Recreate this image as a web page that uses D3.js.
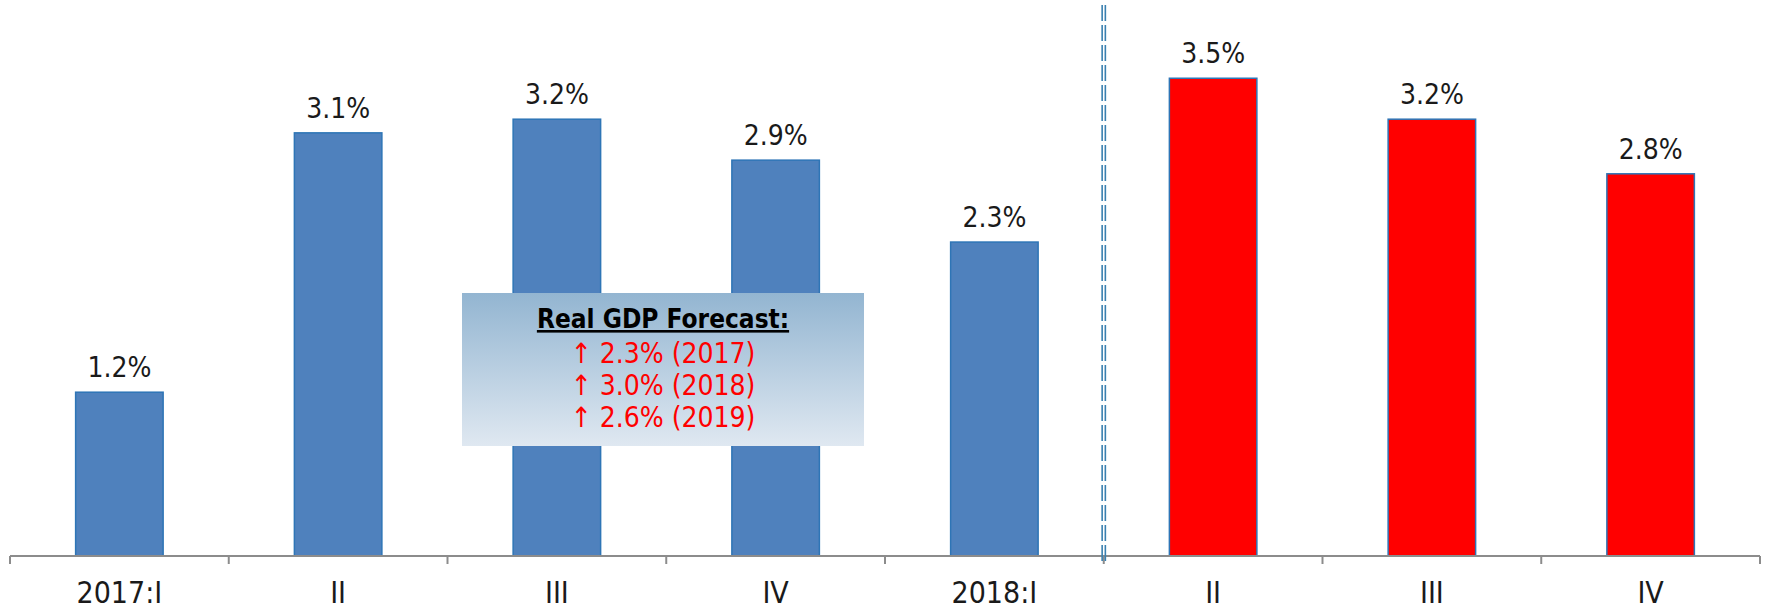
<!DOCTYPE html>
<html>
<head>
<meta charset="utf-8">
<script src="https://cdn.jsdelivr.net/npm/d3@7"></script>
<style>
  body { margin: 0; background: #fff; }
  svg { display: block; font-family: "DejaVu Sans Condensed", "DejaVu Sans", sans-serif; font-stretch: condensed; }
</style>
</head>
<body>
<div class="vis-barchart"></div>
<script>
// quarters, real GDP growth (%)
const quarters = ["2017:I", "II", "III", "IV", "2018:I", "II", "III", "IV"];
const growth = [1.2, 3.1, 3.2, 2.9, 2.3, 3.5, 3.2, 2.8];
const isForecast = [false, false, false, false, false, true, true, true];
const forecastTitle = "Real GDP Forecast:";
const forecastLines = ["\u2191 2.3% (2017)", "\u2191 3.0% (2018)", "\u2191 2.6% (2019)"];

const W = 1771, H = 609;
const margin = { top: 10, right: 11, bottom: 53, left: 10 };
const width = W - margin.left - margin.right;
const height = H - margin.top - margin.bottom;

const svg = d3.select(".vis-barchart")
    .append("svg")
    .attr("width", W)
    .attr("height", H)
    .append("g")
    .attr("transform", "translate(" + margin.left + "," + margin.top + ")");

const idx = quarters.map((d, i) => i);

// X channel
const x = d3.scaleBand()
    .domain(idx)
    .range([0, width])
    .paddingInner(0.6)
    .paddingOuter(0.3);
const step = x.step();

// Y channel
const y = d3.scaleLinear()
    .domain([0, 4])
    .range([height, 0]);

// gradient for the forecast box
const defs = svg.append("defs");
const grad = defs.append("linearGradient")
    .attr("id", "boxGrad")
    .attr("x1", 0).attr("y1", 0).attr("x2", 0).attr("y2", 1);
grad.append("stop").attr("offset", "0%").attr("stop-color", "#93b5d1");
grad.append("stop").attr("offset", "100%").attr("stop-color", "#dfe8f1");

// Bars
svg.selectAll(".bar")
    .data(growth)
    .enter()
    .append("rect")
    .attr("class", "bar")
    .attr("x", (d, i) => x(i))
    .attr("width", x.bandwidth())
    .attr("y", d => y(d))
    .attr("height", d => height - y(d))
    .attr("fill", (d, i) => isForecast[i] ? "#ff0000" : "#4f81bd")
    .attr("stroke", "#2e75b6")
    .attr("stroke-width", 1.5);

// value labels
svg.selectAll(".val")
    .data(growth)
    .enter()
    .append("text")
    .attr("class", "val")
    .attr("x", (d, i) => x(i) + x.bandwidth() / 2)
    .attr("y", d => y(d) - 15)
    .attr("text-anchor", "middle")
    .attr("font-size", 28)
    .attr("fill", "#1a1a1a")
    .text(d => d.toFixed(1) + "%");

// Axis
const axis = svg.append("g").attr("transform", "translate(0," + height + ")");
axis.append("line")
    .attr("x1", 0).attr("x2", width)
    .attr("stroke", "#8c8c8c").attr("stroke-width", 2);
axis.selectAll(".tick")
    .data(d3.range(quarters.length + 1))
    .enter()
    .append("line")
    .attr("x1", d => d * step).attr("x2", d => d * step)
    .attr("y1", 0).attr("y2", 8)
    .attr("stroke", "#8c8c8c").attr("stroke-width", 2);
axis.selectAll(".lbl")
    .data(quarters)
    .enter()
    .append("text")
    .attr("x", (d, i) => x(i) + x.bandwidth() / 2)
    .attr("y", 47)
    .attr("text-anchor", "middle")
    .attr("font-size", 30)
    .attr("fill", "#1a1a1a")
    .text(d => d);

// dashed divider between actual and forecast
const divX = 5 * step;
[-1.6, 1.6].forEach(off => {
    svg.append("line")
        .attr("x1", divX + off).attr("x2", divX + off)
        .attr("y1", -5).attr("y2", height + 5)
        .attr("stroke", "#3a80b0")
        .attr("stroke-width", 1.6)
        .attr("stroke-dasharray", "16,4");
});

// forecast box
const box = svg.append("g").attr("transform", "translate(452,283)");
box.append("rect")
    .attr("width", 402)
    .attr("height", 153)
    .attr("fill", "url(#boxGrad)");
box.append("text")
    .attr("x", 201)
    .attr("y", 35)
    .attr("text-anchor", "middle")
    .attr("font-size", 26)
    .attr("font-weight", "bold")
    .attr("text-decoration", "underline")
    .attr("fill", "#000")
    .text(forecastTitle);
box.selectAll(".fl")
    .data(forecastLines)
    .enter()
    .append("text")
    .attr("x", 201)
    .attr("y", (d, i) => 70 + i * 32)
    .attr("text-anchor", "middle")
    .attr("font-size", 28)
    .attr("fill", "#ff0000")
    .text(d => d);
</script>
</body>
</html>
